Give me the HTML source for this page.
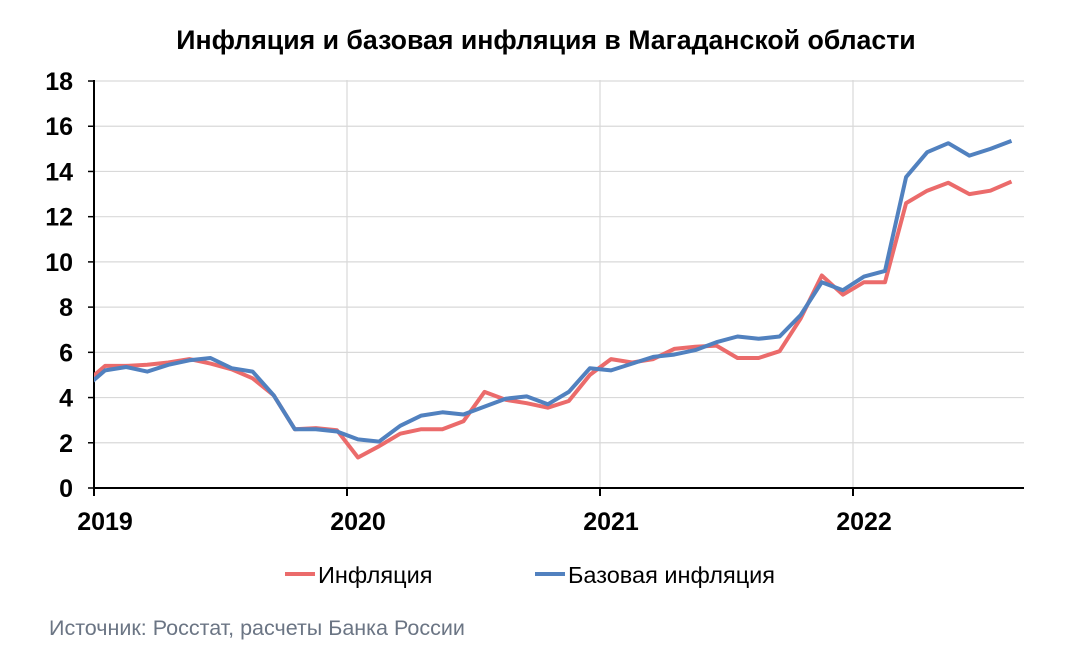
<!DOCTYPE html>
<html><head><meta charset="utf-8"><style>
body{margin:0;background:#fff;}
svg text{font-family:"Liberation Sans","DejaVu Sans",sans-serif;}
</style></head><body>
<svg id="s" width="1072" height="660" xmlns="http://www.w3.org/2000/svg">
<rect width="1072" height="660" fill="#fff"/>
<text x="546" y="49" text-anchor="middle" font-size="26.7" font-weight="bold" fill="#000">Инфляция и базовая инфляция в Магаданской области</text>
<g id="grid" stroke="#d9d9d9" stroke-width="1.2"></g>
<g id="ylab" font-size="25" font-weight="bold" fill="#000" text-anchor="end"></g>
<line x1="94" y1="80" x2="94" y2="488" stroke="#000" stroke-width="2"/>
<line x1="94" y1="488" x2="1024" y2="488" stroke="#000" stroke-width="2"/>
<g font-size="25" font-weight="bold" fill="#000" text-anchor="middle">
<text x="105" y="530">2019</text><text x="358" y="530">2020</text><text x="611" y="530">2021</text><text x="864" y="530">2022</text>
</g>
<defs><clipPath id="c"><rect x="94" y="60" width="940" height="440"/></clipPath></defs>
<g clip-path="url(#c)" fill="none" stroke-width="4" stroke-linejoin="round">
<polyline id="r" stroke="#eb6b6b"/>
<polyline id="b" stroke="#5181bf"/>
</g>
<line x1="285" y1="574" x2="315" y2="574" stroke="#eb6b6b" stroke-width="4"/>
<text x="318" y="583" font-size="23.5" fill="#000">Инфляция</text>
<line x1="535" y1="574" x2="565" y2="574" stroke="#5181bf" stroke-width="4"/>
<text x="568" y="583" font-size="23.5" fill="#000">Базовая инфляция</text>
<text x="49" y="635" font-size="21.5" fill="#6b7584">Источник: Росстат, расчеты Банка России</text>
</svg>
<script>
var Y=function(v){return 488-v*22.61};
var g=document.getElementById('grid'),yl=document.getElementById('ylab');
var h='';for(var v=2;v<=18;v+=2){h+='<line x1="94" y1="'+Y(v)+'" x2="1024" y2="'+Y(v)+'"/>';}
[347,600,853].forEach(function(x){h+='<line x1="'+x+'" y1="80" x2="'+x+'" y2="488"/>';});
g.innerHTML=h;
var t='';for(var v=0;v<=18;v+=2){t+='<text x="73" y="'+(Y(v)+9)+'">'+v+'</text><line x1="88" y1="'+Y(v)+'" x2="94" y2="'+Y(v)+'" stroke="#000" stroke-width="1.5"/>';}
[94,347,600,853].forEach(function(x){t+='<line x1="'+x+'" y1="488" x2="'+x+'" y2="496" stroke="#000" stroke-width="2"/>';});
yl.innerHTML=t;
var R=[4.6,5.4,5.4,5.45,5.55,5.7,5.5,5.25,4.85,4.1,2.6,2.65,2.55,1.35,1.85,2.4,2.6,2.6,2.95,4.25,3.9,3.75,3.55,3.85,5.0,5.7,5.55,5.7,6.15,6.25,6.3,5.75,5.75,6.05,7.5,9.4,8.55,9.1,9.1,12.6,13.15,13.5,13.0,13.15,13.55];
var B=[4.4,5.2,5.35,5.15,5.45,5.65,5.75,5.3,5.15,4.1,2.6,2.6,2.5,2.15,2.05,2.75,3.2,3.35,3.25,3.6,3.95,4.05,3.7,4.25,5.3,5.2,5.5,5.8,5.9,6.1,6.45,6.7,6.6,6.7,7.65,9.1,8.75,9.35,9.6,13.75,14.85,15.25,14.7,15.0,15.35];
function pts(a){return a.map(function(v,k){return (84+21.08*k).toFixed(1)+','+Y(v).toFixed(1)}).join(' ');}
document.getElementById('r').setAttribute('points',pts(R));
document.getElementById('b').setAttribute('points',pts(B));
</script>
</body></html>
